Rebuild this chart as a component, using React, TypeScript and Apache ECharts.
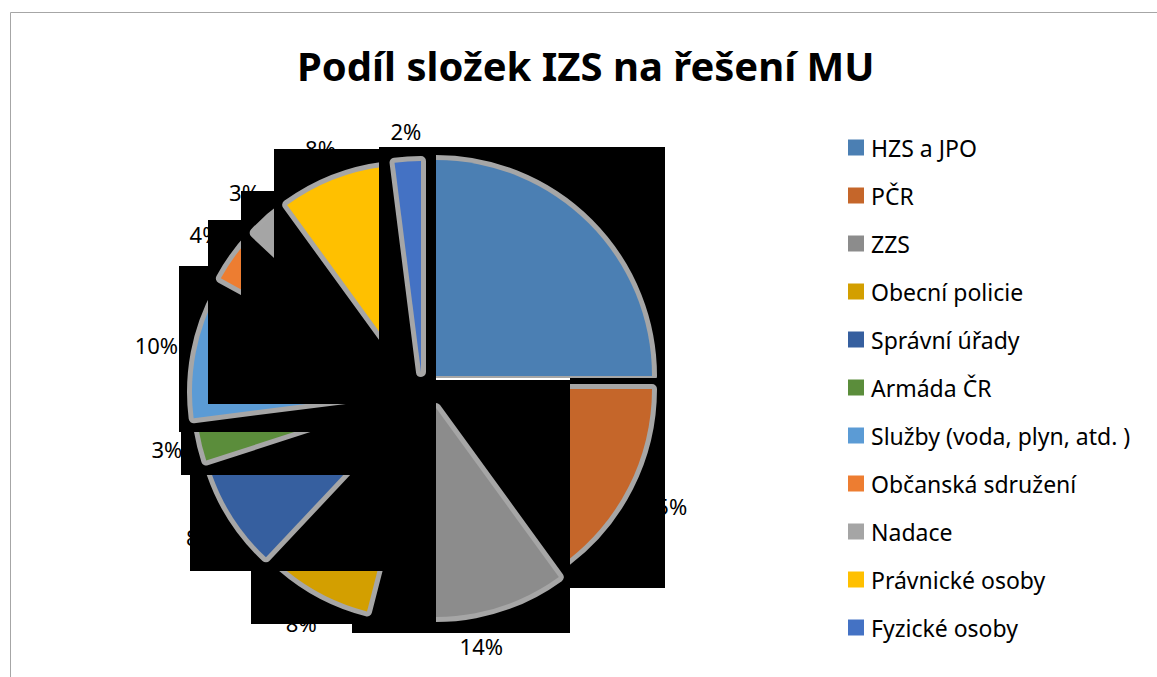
import React, { useEffect, useRef } from 'react';
import * as echarts from 'echarts';

// ---- data ----
const categories = [
  'HZS a JPO',
  'PČR',
  'ZZS',
  'Obecní policie',
  'Správní úřady',
  'Armáda ČR',
  'Služby (voda, plyn, atd. )',
  'Občanská sdružení',
  'Nadace',
  'Právnické osoby',
  'Fyzické osoby',
];
const shares = [25, 15, 14, 8, 8, 3, 10, 4, 3, 8, 2];
const titleText = 'Podíl složek IZS na řešení MU';

// ---- styles ----
const colors = [
  '#4b7fb3', '#c5662a', '#8c8c8c', '#d39f00', '#365f9f', '#5b8d3b',
  '#5b9bd5', '#ed7d31', '#a5a5a5', '#ffc000', '#4472c4',
];
const GLOW = '#a6a6a6';

// ---- layout of the (glitched) rendering: per-slice centre, radius, black box ----
const sliceCenters: [number, number][] = [
  [436, 376], [436, 389], [436, 408], [419, 409], [409, 405], [405, 396],
  [401, 392], [404, 379], [407, 376], [410, 374], [421, 372],
];
const sliceRadii = [216, 216, 209, 209, 209, 209, 209, 209, 209, 209, 211];
const sliceBoxes: [number, number, number, number][] = [
  [432, 147, 665, 378],
  [570, 378, 665, 588],
  [352, 380, 570, 633],
  [251, 571, 436, 624],
  [190, 475, 436, 571],
  [181, 432, 436, 475],
  [179, 266, 436, 432],
  [208, 220, 436, 404],
  [241, 191, 436, 395],
  [274, 149, 436, 390],
  [379, 147, 432, 400],
];

export default function App() {
  const ref = useRef<HTMLDivElement>(null);

  useEffect(() => {
    document.body.style.margin = '0';
    const chart = echarts.init(ref.current as HTMLDivElement, undefined, { renderer: 'svg' });

    const total = shares.reduce((a, b) => a + b, 0);
    const startOf = (i: number) => shares.slice(0, i).reduce((a, b) => a + b, 0);
    const pctText = (v: number) => Math.round((v / total) * 100) + '%';

    const labelSeries: any = {
      type: 'custom',
      coordinateSystem: 'none',
      silent: true,
      z: 1,
      data: shares.map((v) => [v]),
      renderItem: (params: any, api: any) => {
        const i = params.dataIndex;
        const v = api.value(0) as number;
        const mid = ((startOf(i) + v / 2) / total) * Math.PI * 2;
        const s = Math.sin(mid);
        const c = Math.cos(mid);
        const txt = pctText(v);
        const w = txt.length * 11 + 11;
        const h = 26;
        const d = sliceRadii[i] + 16 + (Math.abs(s) * w) / 2 + (Math.abs(c) * h) / 2;
        const [cx, cy] = sliceCenters[i];
        return {
          type: 'text',
          x: cx + s * d,
          y: cy - c * d,
          style: {
            text: txt,
            fill: '#000',
            fontSize: 22,
            fontFamily: 'Noto Sans',
            align: 'center',
            verticalAlign: 'middle',
          },
        };
      },
    };

    const sliceSeries: any = {
      type: 'custom',
      coordinateSystem: 'none',
      silent: true,
      z: 2,
      data: shares.map((v) => [v]),
      renderItem: (params: any, api: any) => {
        const i = params.dataIndex;
        const v = api.value(0) as number;
        const a0 = (startOf(i) / total) * Math.PI * 2 - Math.PI / 2;
        const a1 = ((startOf(i) + v) / total) * Math.PI * 2 - Math.PI / 2;
        const [cx, cy] = sliceCenters[i];
        const r = sliceRadii[i];
        const [x0, y0, x1, y1] = sliceBoxes[i];
        const boxShape = { x: x0, y: y0, width: x1 - x0, height: y1 - y0 };
        const sectorShape = { cx, cy, r0: 0, r, startAngle: a0, endAngle: a1, clockwise: true };
        return {
          type: 'group',
          children: [
            { type: 'rect', shape: boxShape, style: { fill: '#000' } },
            {
              type: 'group',
              clipPath: { type: 'rect', shape: boxShape },
              children: [
                {
                  type: 'sector',
                  shape: sectorShape,
                  style: { fill: GLOW, stroke: GLOW, lineWidth: 10, lineJoin: 'round' },
                },
                { type: 'sector', shape: sectorShape, style: { fill: colors[i] } },
              ],
            },
          ],
        };
      },
    };

    const legendPie: any = {
      type: 'pie',
      center: [-400, -400],
      radius: 5,
      silent: true,
      label: { show: false },
      labelLine: { show: false },
      data: categories.map((n, i) => ({ name: n, value: shares[i], itemStyle: { color: colors[i] } })),
    };

    chart.setOption({
      animation: false,
      backgroundColor: '#fff',
      title: {
        text: titleText,
        left: 292,
        top: 37,
        textStyle: {
          fontFamily: 'Noto Sans',
          fontWeight: 'bold',
          fontSize: 40,
          lineHeight: 46,
          color: '#000',
        },
      },
      legend: {
        orient: 'vertical',
        left: 843,
        top: 131,
        icon: 'rect',
        itemWidth: 16,
        itemHeight: 16,
        itemGap: 25,
        selectedMode: false,
        data: categories,
        textStyle: { fontFamily: 'Noto Sans', fontSize: 23, color: '#000', padding: [0, 0, 0, 2] },
      },
      graphic: [
        {
          type: 'rect',
          silent: true,
          z: -1,
          shape: { x: 10.5, y: 12.5, width: 1200, height: 700 },
          style: { fill: 'none', stroke: '#a6a6a6', lineWidth: 1 },
        },
      ],
      series: [legendPie, labelSeries, sliceSeries],
    });

    return () => chart.dispose();
  }, []);

  return <div ref={ref} style={{ width: 1157, height: 677 }} />;
}
